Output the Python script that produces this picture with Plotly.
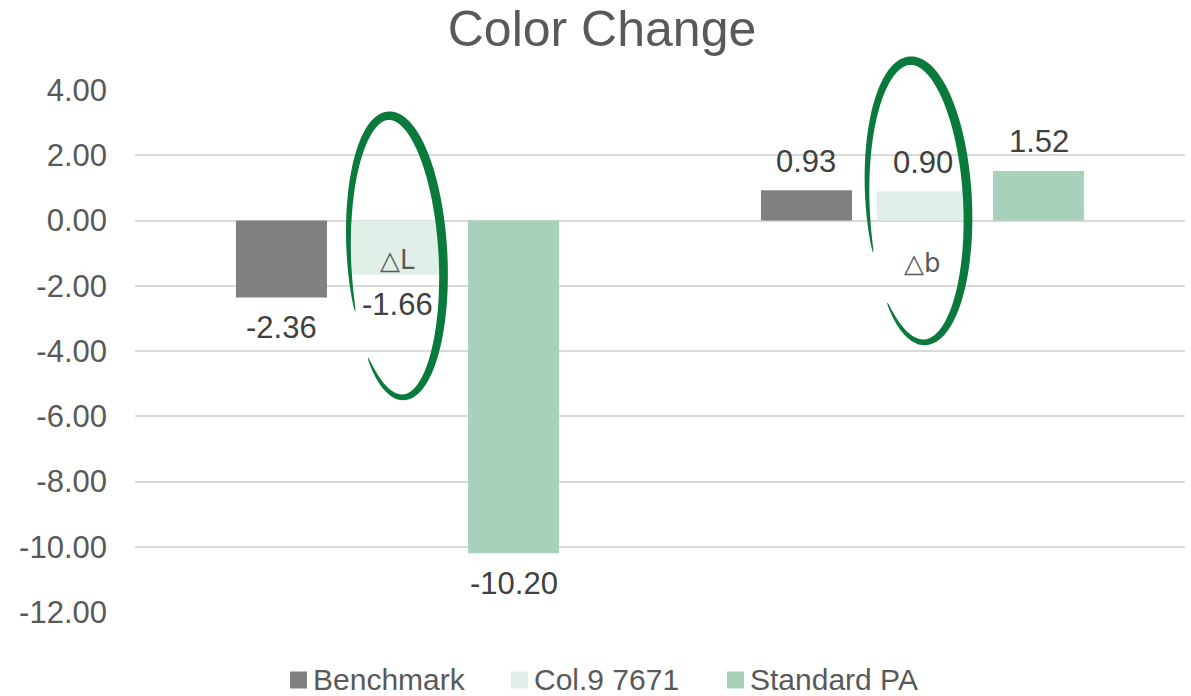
import numpy as np
import plotly.graph_objects as go

categories = ["△L", "△b"]
series_names = ["Benchmark", "Col.9 7671", "Standard PA"]
benchmark = [-2.36, 0.93]
col9 = [-1.66, 0.90]
standard_pa = [-10.20, 1.52]
series_values = [benchmark, col9, standard_pa]
colors = ["#808080", "#E0EFE7", "#A8D1BC"]
tick_vals = [4, 2, 0, -2, -4, -6, -8, -10, -12]

W, H = 1191, 696
ML, MR, MT, MB = 135, 6, 90, 84
PW, PH = W - ML - MR, H - MT - MB
BARGAP = 0.337
BARGROUPGAP = 0.215
FONT = "Liberation Sans, Arial"

fig = go.Figure()
for name, vals, col in zip(series_names, series_values, colors):
    fig.add_trace(go.Bar(x=categories, y=vals, name=name, showlegend=False,
                         marker=dict(color=col, line=dict(width=0)), hoverinfo="skip"))

annotations = []
slot = (1 - BARGAP) / 3
for i, vals in enumerate(series_values):
    for j, v in enumerate(vals):
        annotations.append(dict(x=j + (i - 1) * slot, y=v, xref="x", yref="y", text=f"{v:.2f}",
                                showarrow=False, yshift=29 if v >= 0 else -30,
                                font=dict(size=31, color="#404040", family=FONT),
                                xanchor="center", yanchor="middle"))
# category labels drawn inside the chart
cat_label_y = [-1.22, -1.29]
for c, yv in zip(categories, cat_label_y):
    annotations.append(dict(x=c, y=yv, xref="x", yref="y", text=c, showarrow=False,
                            font=dict(size=26, color="#595959", family="DejaVu Sans, Liberation Sans"),
                            xanchor="center", yanchor="middle"))


def to_paper(px, py):
    return (px - ML) / PW, (H - MB - py) / PH


def tapered_ellipse(cx, cy, a, b, rot_deg, t0_deg, t1_deg, wmax):
    phi = np.radians(rot_deg)
    ts = np.radians(np.linspace(t0_deg, t1_deg, 160))
    s = np.linspace(0, 1, len(ts))
    w = wmax * np.sin(np.pi * s) ** 0.55 + 0.6
    outer, inner = [], []
    for t, ww in zip(ts, w):
        x, y = a * np.cos(t), b * np.sin(t)
        nx, ny = b * np.cos(t), a * np.sin(t)
        nl = np.hypot(nx, ny)
        nx, ny = nx / nl, ny / nl
        for sign, lst in ((1, outer), (-1, inner)):
            px = x + sign * nx * ww / 2
            py = y + sign * ny * ww / 2
            rx = px * np.cos(phi) - py * np.sin(phi)
            ry = px * np.sin(phi) + py * np.cos(phi)
            lst.append(to_paper(cx + rx, cy + ry))
    pts = outer + inner[::-1]
    path = "M " + " L ".join(f"{x:.5f},{y:.5f}" for x, y in pts) + " Z"
    return dict(type="path", xref="paper", yref="paper", path=path,
                fillcolor="#0A7A3C", line=dict(width=0), layer="above")


shapes = [
    tapered_ellipse(396, 256.5, 47, 141, -3, 158, 495, 8.5),
    tapered_ellipse(917.5, 201.5, 50, 141, -3, 160, 495, 8.5),
]

# custom legend (swatch + label) below the plot
legend_swatch_x = [290, 511, 727]
legend_y = 680
SW = 17
for name, col, sx in zip(series_names, colors, legend_swatch_x):
    x0, y1 = to_paper(sx, legend_y - SW / 2)
    x1, y0 = to_paper(sx + SW, legend_y + SW / 2)
    shapes.append(dict(type="rect", xref="paper", yref="paper", x0=x0, x1=x1, y0=y0, y1=y1,
                       fillcolor=col, line=dict(width=0)))
    tx, ty = to_paper(sx + SW + 5, legend_y - 1)
    annotations.append(dict(x=tx, y=ty, xref="paper", yref="paper", text=name, showarrow=False,
                            xanchor="left", yanchor="middle", borderpad=0,
                            font=dict(size=30, color="#595959", family=FONT)))

fig.update_layout(
    width=W, height=H,
    margin=dict(l=ML, r=MR, t=MT, b=MB, autoexpand=False),
    paper_bgcolor="white", plot_bgcolor="white",
    barmode="group", bargap=BARGAP, bargroupgap=BARGROUPGAP,
    showlegend=False,
    title=dict(text="Color Change", x=602 / W, xref="container", xanchor="center", y=1 - 28 / H,
               yref="container", yanchor="middle",
               font=dict(size=50, color="#595959", family=FONT)),
    font=dict(family=FONT, color="#595959"),
    xaxis=dict(showticklabels=False, showgrid=False, zeroline=False, showline=False, ticks=""),
    yaxis=dict(range=[-12, 4], tickvals=tick_vals, ticktext=[f"{v:.2f}" for v in tick_vals],
               showgrid=True, gridcolor="#D9D9D9", gridwidth=1.5, zeroline=True, zerolinecolor="#D9D9D9",
               zerolinewidth=1.5, showline=False, ticks="", ticklabelstandoff=27,
               tickfont=dict(size=31, color="#595959")),
    annotations=annotations,
    shapes=shapes,
)

fig.write_html("out.html")
